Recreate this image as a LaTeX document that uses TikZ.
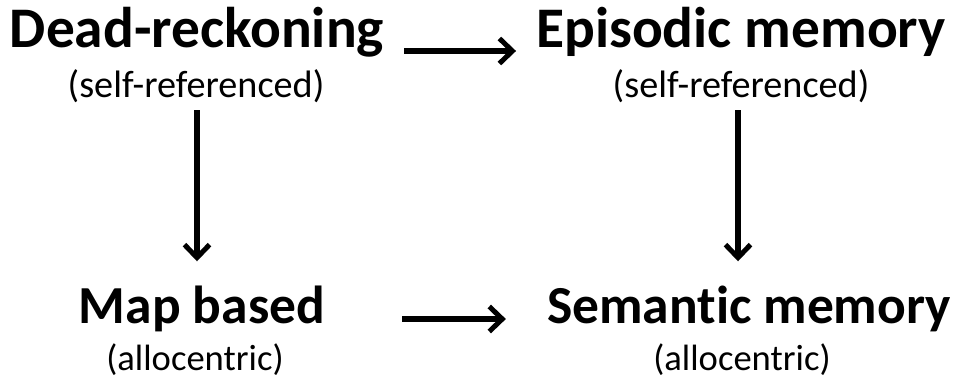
\documentclass[tikz,border=0pt]{standalone}
\usepackage{fontspec}
\setmainfont[Ligatures={NoCommon,NoContextual}]{Carlito}
\usetikzlibrary{arrows.meta}
\tikzset{
  title/.style={font=\bfseries\fontsize{57.4}{66}\selectfont, inner sep=0pt, anchor=base},
  titleb/.style={font=\bfseries\fontsize{53.5}{62}\selectfont, inner sep=0pt, anchor=base},
  sub/.style={font=\fontsize{38.2}{44}\selectfont, inner sep=0pt, anchor=base},
  subb/.style={font=\fontsize{36.6}{42}\selectfont, inner sep=0pt, anchor=base},
  arr/.style={line width=5.2pt, -{Straight Barb[length=13pt,width=25pt,line width=5pt]}}
}
\begin{document}
\begin{tikzpicture}[x=1pt,y=-1pt]
\useasboundingbox (0,0) rectangle (962,380);
\node[title] (dr) at (197,47) {Dead-reckoning};
\node[sub] (sr1) at (196,97) {(self-referenced)};
\node[title] (ep) at (741,47) {Episodic memory};
\node[sub] (sr2) at (741,97) {(self-referenced)};
\node[titleb] (map) at (202,323) {Map based};
\node[subb] (al1) at (195,370) {(allocentric)};
\node[titleb] (sem) at (749,323) {Semantic memory};
\node[subb] (al2) at (742,370) {(allocentric)};
\draw[arr, shorten <=20pt, shorten >=20pt] ([yshift=-4pt]dr.base east) -- ([yshift=-4pt]dr.base east -| ep.west);
\draw[arr, shorten <=8pt, shorten >=24pt] ([xshift=1pt]sr1.south) -- ([xshift=1pt]sr1.south |- map.north);
\draw[arr, shorten <=8pt, shorten >=24pt] ([xshift=-3pt]sr2.south) -- ([xshift=-3pt]sr2.south |- sem.north);
\draw[arr, shorten <=77pt, shorten >=41pt] ([yshift=4pt]map.base east) -- ([yshift=4pt]map.base east -| sem.west);
\end{tikzpicture}
\end{document}
